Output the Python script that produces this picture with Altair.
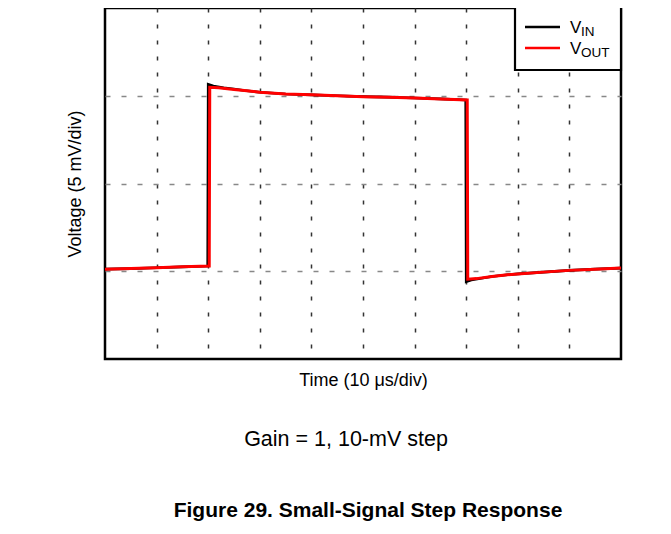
import altair as alt
import pandas as pd

# ---- data (time in µs, voltage in mV) ----
t_in = [0, 5, 10, 15, 19.9, 20.0, 21, 23, 25, 27, 30, 35, 40, 45, 50, 55, 60, 65, 69.9,
        70.0, 71, 73, 75, 78, 80, 85, 90, 95, 100]
v_in = [0.12, 0.15, 0.2, 0.25, 0.3, 10.65, 10.55, 10.45, 10.38, 10.3, 10.2, 10.1, 10.05, 10.0,
        9.95, 9.92, 9.87, 9.82, 9.76, -0.6, -0.5, -0.4, -0.3, -0.2, -0.15, -0.05, 0.05, 0.12, 0.18]

t_out = [0, 5, 10, 15, 20.2, 20.3, 22, 25, 27, 30, 35, 40, 45, 50, 55, 60, 65, 70.2,
         70.3, 72, 75, 78, 80, 85, 90, 95, 100]
v_out = [0.12, 0.15, 0.2, 0.25, 0.3, 10.48, 10.45, 10.36, 10.3, 10.2, 10.1, 10.05, 10.0,
         9.95, 9.92, 9.87, 9.82, 9.76, -0.45, -0.42, -0.3, -0.2, -0.15, -0.05, 0.05, 0.12, 0.18]

series_main = ["V", "V"]
series_sub = ["IN", "OUT"]
series_color = ["#000000", "#ff0000"]

x_grid = [10, 20, 30, 40, 50, 60, 70, 80, 90]
y_grid = [0, 5, 10]

FONT = "Liberation Sans, Arial, Helvetica, sans-serif"

df_in = pd.DataFrame({"t": t_in, "v": v_in, "i": range(len(t_in))})
df_out = pd.DataFrame({"t": t_out, "v": v_out, "i": range(len(t_out))})

x_enc = alt.X("t:Q", scale=alt.Scale(domain=[0, 100], nice=False, zero=False),
              axis=alt.Axis(values=x_grid, grid=True, labels=False, ticks=False, domain=False,
                            title="Time (10 μs/div)", titleFont=FONT, titleFontSize=18,
                            titleFontWeight="normal", titleColor="#000", titlePadding=12,
                            gridColor="#333", gridDash=[4, 12], gridWidth=1.5))
y_enc = alt.Y("v:Q", scale=alt.Scale(domain=[-5, 15], nice=False, zero=False),
              axis=alt.Axis(values=y_grid, grid=True, labels=False, ticks=False, domain=False,
                            title="Voltage (5 mV/div)", titleFont=FONT, titleFontSize=18,
                            titleFontWeight="normal", titleColor="#000", titlePadding=21,
                            gridColor="#888", gridDash=[5, 11], gridWidth=1.5))

line_in = alt.Chart(df_in).mark_line(color=series_color[0], strokeWidth=2.6).encode(
    x=x_enc, y=y_enc, order="i:Q")
line_out = alt.Chart(df_out).mark_line(color=series_color[1], strokeWidth=3).encode(
    x=x_enc, y=y_enc, order="i:Q")

one = pd.DataFrame({"k": [0]})

legend_box = alt.Chart(one).mark_rect(fill="white", stroke="black", strokeWidth=2.2).encode(
    x=alt.value(410), x2=alt.value(516), y=alt.value(-1), y2=alt.value(62))

legend_layers = [legend_box]
row_y = [19, 40]
for k in range(2):
    yy = row_y[k]
    legend_layers.append(
        alt.Chart(one).mark_rule(color=series_color[k], strokeWidth=2.5).encode(
            x=alt.value(420), x2=alt.value(455), y=alt.value(yy)))
    legend_layers.append(
        alt.Chart(one).mark_text(text=series_main[k], font=FONT, fontSize=17, align="left",
                                 baseline="alphabetic", color="#000").encode(
            x=alt.value(465), y=alt.value(yy + 6)))
    legend_layers.append(
        alt.Chart(one).mark_text(text=series_sub[k], font=FONT, fontSize=13.5, align="left",
                                 baseline="alphabetic", color="#000").encode(
            x=alt.value(476), y=alt.value(yy + 9)))

note = alt.Chart(one).mark_text(text="Gain = 1, 10-mV step", font=FONT, fontSize=21.5,
                                align="center", baseline="alphabetic", color="#000").encode(
    x=alt.value(241), y=alt.value(438))
fig_title = alt.Chart(one).mark_text(text="Figure 29. Small-Signal Step Response", font=FONT,
                                     fontSize=21, fontWeight="bold", align="center",
                                     baseline="alphabetic", color="#000").encode(
    x=alt.value(263), y=alt.value(509))

chart = alt.layer(line_in, line_out, *legend_layers, note, fig_title).properties(
    width=516, height=351,
    autosize=alt.AutoSizeParams(type="none"),
    padding={"left": 97, "top": 0, "right": 42, "bottom": 167},
    background="white",
).configure_view(stroke="black", strokeWidth=2.5)

chart.save("out.html", embed_options={"renderer": "svg", "actions": False})
